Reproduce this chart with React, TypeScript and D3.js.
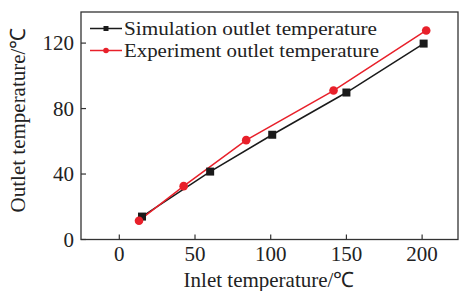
import React from "react";
import * as d3 from "d3";

const simX = [15, 60, 101, 150, 201];
const simY = [14, 41.5, 64, 89.8, 119.7];
const expX = [13, 42.5, 83.8, 141.5, 202.7];
const expY = [11.5, 32.6, 60.7, 91, 127.7];
const xTicks = [0, 50, 100, 150, 200];
const yTicks = [0, 40, 80, 120];
const seriesNames = ["Simulation outlet temperature", "Experiment outlet temperature"];
const xLabel = "Inlet temperature/℃";
const yLabel = "Outlet temperature/℃";

const W = 459, H = 291;
const L = 81, R = 458, T = 12, B = 239.5;
const FONT = "'Liberation Serif', 'Times New Roman', serif";

export default function App() {
  const x = d3.scaleLinear().domain([-25.3, 223.7]).range([L, R]);
  const y = d3.scaleLinear().domain([0, 139]).range([B, T]);
  const line = d3.line<number>();
  const simPts = simX.map((v, i) => [x(v), y(simY[i])] as [number, number]);
  const expPts = expX.map((v, i) => [x(v), y(expY[i])] as [number, number]);
  const black = "#1a1a1a";
  const red = "#e8202a";
  return (
    <svg width={W} height={H} style={{ position: "absolute", left: 0, top: 0, background: "#fff" }}
      fontFamily={FONT}>
      <rect x={0} y={0} width={W} height={H} fill="#fff" />
      <rect x={L} y={T} width={R - L} height={B - T} fill="none" stroke="#333" strokeWidth={1.3} />
      {xTicks.map((t) => (
        <g key={"x" + t}>
          <line x1={x(t)} x2={x(t)} y1={B} y2={B - 5} stroke="#333" strokeWidth={1.2} />
          <text x={x(t)} y={261} textAnchor="middle" fontSize={21} fill="#222">{t}</text>
        </g>
      ))}
      {yTicks.map((t) => (
        <g key={"y" + t}>
          <line x1={L} x2={L + 5} y1={y(t)} y2={y(t)} stroke="#333" strokeWidth={1.2} />
          <text x={74} y={y(t) + 7} textAnchor="end" fontSize={21} fill="#222">{t}</text>
        </g>
      ))}
      <path d={line(simPts) || ""} fill="none" stroke={black} strokeWidth={1.5} />
      <path d={line(expPts) || ""} fill="none" stroke={red} strokeWidth={1.5} />
      {simPts.map((p, i) => (
        <rect key={"s" + i} x={p[0] - 4} y={p[1] - 4} width={8} height={8} fill={black} />
      ))}
      {expPts.map((p, i) => (
        <circle key={"e" + i} cx={p[0]} cy={p[1]} r={4.3} fill={red} />
      ))}
      {/* legend */}
      <g>
        <line x1={90} x2={122} y1={28.5} y2={28.5} stroke={black} strokeWidth={1.5} />
        <rect x={103.5} y={26} width={5} height={5} fill={black} />
        <text x={124} y={34.5} fontSize={19.5} textLength={253} lengthAdjust="spacingAndGlyphs" fill="#222">{seriesNames[0]}</text>
        <line x1={90} x2={122} y1={50.5} y2={50.5} stroke={red} strokeWidth={1.5} />
        <circle cx={106} cy={50.5} r={2.8} fill={red} />
        <text x={124} y={56.5} fontSize={19.5} textLength={255} lengthAdjust="spacingAndGlyphs" fill="#222">{seriesNames[1]}</text>
      </g>
      <text x={269} y={287} textAnchor="middle" fontSize={21} fill="#222">{xLabel}</text>
      <text transform={`translate(25,120) rotate(-90)`} textAnchor="middle" fontSize={21} fill="#222">{yLabel}</text>
    </svg>
  );
}
